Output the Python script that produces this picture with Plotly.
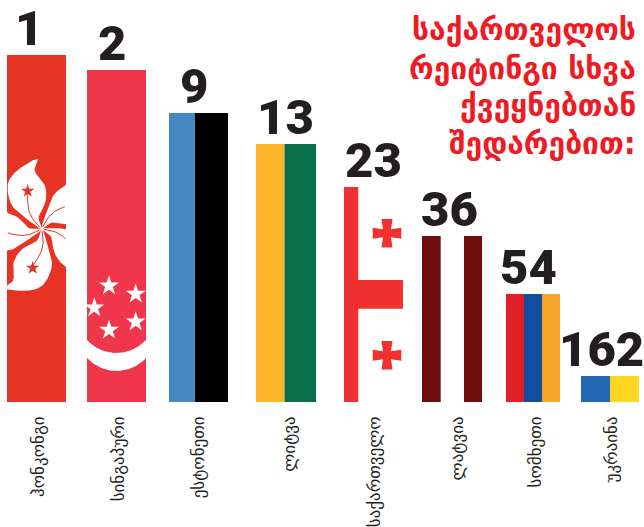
import numpy as np
import plotly.graph_objects as go

# Country ranking: rank printed above each flag bar
countries = ["ჰონკონგი", "სინგაპური", "ესტონეთი", "ლიტვა", "საქართველო", "ლატვია", "სომხეთი", "უკრაინა"]
ranks = [1, 2, 9, 13, 23, 36, 54, 162]
bar_heights = [347, 332, 289, 258, 215, 166, 108, 26]
title_lines = ["საქართველოს", "რეიტინგი სხვა", "ქვეყნებთან", "შედარებით:"]

# Flag stripes per bar: (left edge, right edge, colour)
flag_stripes = [
    [(7, 66, "#e73323")],
    [(87, 146, "#ef364a")],
    [(169, 195, "#4588c4"), (195, 228, "#000000")],
    [(256, 284.5, "#fdb52a"), (284.5, 316, "#0a6f4b")],
    [(344, 358.3, "#f13030")],
    [(422, 440.7, "#6f0d0d"), (464, 482, "#6f0d0d")],
    [(506, 524, "#e21f26"), (524, 542, "#134d9e"), (542, 560, "#f7a527")],
    [(581, 610, "#2268b4"), (610, 639, "#ffd622")],
]
label_centres = [29, 112, 194, 285, 373, 449, 528, 601]
tick_centres = [38, 118, 198, 289, 374, 457, 535, 611]

BASE = 402  # pixel row of the bar baseline, used for the emblem geometry


def flip(y):
    return BASE - np.asarray(y, dtype=float)


def smooth(points, steps=14):
    """Closed Catmull-Rom curve through the given points."""
    p = np.asarray(points, dtype=float)
    n = len(p)
    out = []
    for i in range(n):
        p0, p1, p2, p3 = p[(i - 1) % n], p[i], p[(i + 1) % n], p[(i + 2) % n]
        for t in np.linspace(0, 1, steps, endpoint=False):
            out.append(0.5 * (2 * p1 + (p2 - p0) * t + (2 * p0 - 5 * p1 + 4 * p2 - p3) * t ** 2
                              + (3 * p1 - p0 - 3 * p2 + p3) * t ** 3))
    out.append(out[0])
    return np.array(out)


def rotate(points, degrees):
    a = np.radians(degrees)
    r = np.array([[np.cos(a), -np.sin(a)], [np.sin(a), np.cos(a)]])
    return points @ r.T


fig = go.Figure()

# Flag stripes, one bar per stripe
for stripes, height in zip(flag_stripes, bar_heights):
    fig.add_trace(go.Bar(
        x=[(a + b) / 2 for a, b, _ in stripes],
        y=[height] * len(stripes),
        width=[b - a for a, b, _ in stripes],
        marker=dict(color=[c for _, _, c in stripes], line_width=0),
        hoverinfo="skip",
    ))

# Georgian flag: horizontal arm of the large cross
fig.add_trace(go.Bar(x=[380.5], y=[28.7], base=[93.3], width=[45],
                     marker=dict(color="#f13030", line_width=0), hoverinfo="skip"))

# Hong Kong bauhinia petals, clipped to the bar edges
HK_CENTRE = np.array([41.7, 229.0])
petal = np.array([(0, 0), (-16, -11), (-30, -24), (-34, -44), (-25, -58), (-4.7, -70),
                  (-7, -58), (3, -44), (4, -28), (-3, -12)])
petal_curve = smooth(petal)
for k in range(5):
    pts = rotate(petal_curve, 72 * k) + HK_CENTRE
    fig.add_trace(go.Scatter(x=np.clip(pts[:, 0], 7, 66), y=flip(pts[:, 1]), mode="lines", fill="toself",
                             fillcolor="white", line=dict(width=0, color="white"), hoverinfo="skip"))
    # red stamen running from the flower's heart to the star
    t = np.linspace(0.06, 1, 20)
    stamen = np.c_[-14 * t - 5 * np.sin(np.pi * t), -38 * t + 3 * np.sin(np.pi * t)]
    st = rotate(stamen, 72 * k) + HK_CENTRE
    keep = (st[:, 0] > 7) & (st[:, 0] < 66)
    fig.add_trace(go.Scatter(x=st[keep, 0], y=flip(st[keep, 1]), mode="lines",
                             line=dict(width=1, color="#e73323"), hoverinfo="skip"))
hk_star_1 = np.array([[-14.0, -38.0]]) + HK_CENTRE
hk_star_2 = rotate(np.array([[-14.0, -38.0]]), -144) + HK_CENTRE + np.array([2.0, 0.0])
fig.add_trace(go.Scatter(x=[hk_star_1[0, 0], hk_star_2[0, 0]], y=flip([hk_star_1[0, 1], hk_star_2[0, 1]]),
                         mode="markers", marker=dict(symbol="star", size=10, color="#e73323"), hoverinfo="skip"))

# Singapore crescent and stars
xs = np.linspace(87, 146, 60)
outer = 331 + np.sqrt(40 ** 2 - (xs - 116.5) ** 2)
inner = 313 + np.sqrt(40 ** 2 - (xs - 116.5) ** 2)
fig.add_trace(go.Scatter(x=np.r_[xs, xs[::-1]], y=flip(np.r_[outer, inner[::-1]]), mode="lines", fill="toself",
                         fillcolor="white", line=dict(width=0, color="white"), hoverinfo="skip"))
fig.add_trace(go.Scatter(x=[109, 135.7, 135.7, 109, 94.3], y=flip([285.7, 294, 321.7, 330, 307.7]), mode="markers",
                         marker=dict(symbol="star", size=15, color="white"), hoverinfo="skip"))

# Georgian flag: small crosses
cross = np.array([(-4, -14.3), (4, -14.3), (5.5, -14.3), (4, -4), (14.3, -5.5), (14.3, 5.5), (4, 4), (5.5, 14.3),
                  (-5.5, 14.3), (-4, 4), (-14.3, 5.5), (-14.3, -5.5), (-4, -4), (-5.5, -14.3)])
for cy in (233.3, 355.3):
    fig.add_trace(go.Scatter(x=cross[:, 0] + 387, y=flip(cross[:, 1] + cy), mode="lines", fill="toself",
                             fillcolor="#f13030", line=dict(width=0, color="#f13030"), hoverinfo="skip"))

# Rank numbers above the bars
annotations = [
    dict(x=x, y=h, text=str(r), showarrow=False, xanchor="center", yanchor="bottom", yshift=-4,
         font=dict(family="Roboto", size=49, color="#231f20", weight=900))
    for x, h, r in zip(label_centres, bar_heights, ranks)
]
# Red heading, right aligned in the top corner
for line, row in zip(title_lines, [29, 68, 105, 143]):
    annotations.append(dict(xref="paper", x=638 / 644, yref="y", y=BASE - row, text=line, showarrow=False,
                            xanchor="right", yanchor="middle",
                            font=dict(family="DejaVu Sans", size=30, color="#ed1c24", weight=700)))

fig.update_layout(
    width=644, height=527, margin=dict(l=0, r=0, t=0, b=125, autoexpand=False),
    paper_bgcolor="white", plot_bgcolor="white", showlegend=False, barmode="overlay",
    annotations=annotations,
    xaxis=dict(range=[0, 644], tickmode="array", tickvals=tick_centres, ticktext=countries, tickangle=-90,
               ticks="", ticklabelstandoff=10, showgrid=False, zeroline=False, showline=False,
               tickfont=dict(family="DejaVu Sans", size=17, color="#231f20")),
    yaxis=dict(range=[0, 402], visible=False),
)

fig.write_html("out.html")
